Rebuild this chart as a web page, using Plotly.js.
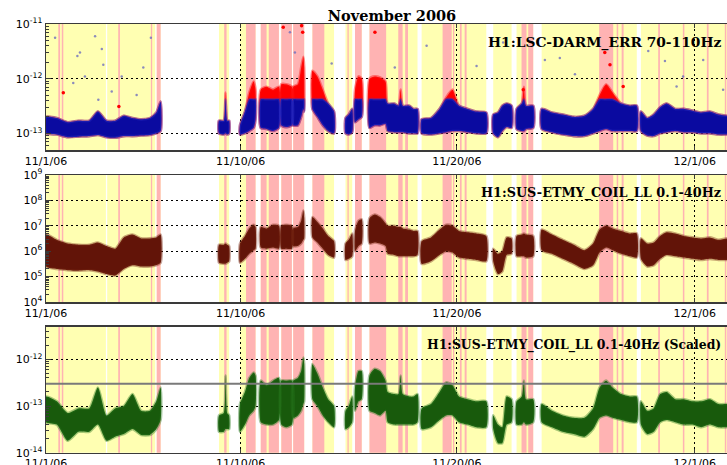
<!DOCTYPE html>
<html>
<head>
<meta charset="utf-8">
<script src="https://cdn.plot.ly/plotly-3.0.1.min.js"></script>
<style>html,body{margin:0;padding:0;overflow:hidden;background:#fff}</style>
</head>
<body>
<div id="chart"></div>
<script>
// ---------- data (days since 11/1/06 00:00) ----------
const dayTicks = [0, 9, 19, 30];
const dayTickLabels = ['11/1/06', '11/10/06', '11/20/06', '12/1/06'];

// science-mode segments (yellow) and flagged segments (pink)
const scienceStart = [0, 2.83, 5.12, 8.00, 8.97, 9.93, 10.88, 11.43, 12.32, 13.85, 14.29, 14.96, 17.37, 20.68, 21.76, 22.92, 27.51];
const scienceEnd   = [2.77, 5.05, 5.30, 8.47, 9.69, 10.77, 11.37, 11.94, 13.32, 14.16, 14.60, 17.18, 20.36, 21.53, 22.53, 27.32, 32];
const flaggedStart = [0.57, 0.73, 3.34, 4.85, 5.12, 8.24, 9.25, 9.93, 10.30, 10.88, 11.43, 12.32, 13.94, 14.29, 14.96, 16.29, 16.61, 18.34, 18.82, 19.14, 19.36, 21.99, 22.30, 25.58, 26.39, 26.62, 28.31, 29.45, 30.56, 31.39];
const flaggedEnd   = [0.65, 0.80, 3.42, 4.91, 5.30, 8.35, 9.69, 10.20, 10.77, 11.37, 11.94, 12.87, 14.00, 14.60, 15.73, 16.49, 16.74, 18.76, 18.88, 19.22, 19.45, 22.22, 22.53, 26.23, 26.46, 26.71, 28.39, 29.52, 30.64, 31.46];

// sample times of the data clouds (null = gap between locked segments)
const t = [
  0, 0.5, 1.0, 1.5, 2.0, 2.4, 2.8, 3.2, 3.6, 4.0, 4.4, 4.8, 5.1, 5.3, null,
  8.0, 8.22, 8.3, 8.38, 8.47, null,
  8.97, 9.2, 9.4, 9.6, 9.69, null,
  9.93, 10.2, 10.5, 10.77, null,
  10.88, 11.1, 11.37, null,
  11.43, 11.65, 11.8, 11.9, 11.94, null,
  12.32, 12.55, 12.8, 13.05, 13.32, null,
  13.85, 14.0, 14.16, null,
  14.29, 14.45, 14.6, null,
  14.96, 15.2, 15.45, 15.7, 15.8, 16.1, 16.3, 16.4, 16.5, 16.8, 17.0, 17.18, null,
  17.37, 17.8, 18.2, 18.5, 18.8, 19.1, 19.5, 19.9, 20.36, null,
  20.68, 20.9, 21.1, 21.3, 21.53, null,
  21.76, 22.0, 22.1, 22.2, 22.53, null,
  22.92, 23.4, 23.9, 24.4, 24.9, 25.3, 25.6, 25.9, 26.2, 26.6, 27.0, 27.32, null,
  27.51, 27.8, 28.1, 28.4, 28.7, 29.1, 29.5, 29.9, 30.3, 30.7, 31.1, 31.5, 32
];

// H1:LSC-DARM_ERR 70-110Hz : upper / lower edge of dense cloud
const darmHi = [
  2.0e-13, 1.9e-13, 1.6e-13, 1.7e-13, 1.7e-13, 2.5e-13, 1.7e-13, 1.7e-13, 2.1e-13, 1.9e-13, 1.8e-13, 1.9e-13, 2.4e-13, 3.8e-13, null,
  1.7e-13, 1.7e-13, 5.6e-13, 1.7e-13, 1.7e-13, null,
  1.4e-13, 2.5e-13, 5.6e-13, 8.9e-13, 6.3e-13, null,
  6.3e-13, 7.1e-13, 6.3e-13, 7.1e-13, null,
  7.9e-13, 7.9e-13, 7.1e-13, null,
  7.1e-13, 7.9e-13, 1.6e-12, 2.5e-12, 1.6e-12, null,
  1.4e-12, 1.1e-12, 6.3e-13, 3.5e-13, 2.5e-13, null,
  1.9e-13, 2.2e-13, 2.8e-13, null,
  6.3e-13, 1.1e-12, 1.0e-12, null,
  1.0e-12, 1.1e-12, 1.05e-12, 8.9e-13, 3.5e-13, 3.5e-13, 3.2e-13, 6.3e-13, 3.2e-13, 3.2e-13, 2.8e-13, 2.8e-13, null,
  1.8e-13, 1.9e-13, 2.8e-13, 4.5e-13, 6.3e-13, 3.2e-13, 2.8e-13, 2.5e-13, 2.4e-13, null,
  2.2e-13, 2.4e-13, 3.2e-13, 3.5e-13, 3.2e-13, null,
  2.8e-13, 3.5e-13, 7.1e-13, 3.2e-13, 3.2e-13, null,
  2.8e-13, 2.4e-13, 2.2e-13, 2.0e-13, 2.1e-13, 2.8e-13, 5.0e-13, 7.9e-13, 5.6e-13, 3.5e-13, 3.2e-13, 3.2e-13, null,
  2.5e-13, 1.9e-13, 2.2e-13, 3.0e-13, 3.5e-13, 2.8e-13, 2.8e-13, 2.6e-13, 2.4e-13, 2.5e-13, 2.2e-13, 2.1e-13, 2.1e-13
];
const darmLo = [
  1.0e-13, 9.5e-14, 8.5e-14, 8.7e-14, 8.9e-14, 9.3e-14, 8.5e-14, 8.3e-14, 8.9e-14, 8.9e-14, 9.1e-14, 9.3e-14, 1.0e-13, 1.1e-13, null,
  1.0e-13, 9.5e-14, 1.0e-13, 9.5e-14, 1.0e-13, null,
  9.5e-14, 1.0e-13, 1.1e-13, 1.26e-13, 1.8e-13, null,
  1.26e-13, 1.2e-13, 1.1e-13, 1.26e-13, null,
  1.4e-13, 1.3e-13, 1.4e-13, null,
  1.4e-13, 1.4e-13, 2.0e-13, 2.8e-13, 2.5e-13, null,
  2.8e-13, 2.0e-13, 1.4e-13, 1.1e-13, 1.0e-13, null,
  1.0e-13, 9.5e-14, 1.05e-13, null,
  1.6e-13, 1.8e-13, 2.0e-13, null,
  1.26e-13, 1.4e-13, 1.4e-13, 1.5e-13, 1.1e-13, 1.05e-13, 1.05e-13, 1.05e-13, 1.05e-13, 1.0e-13, 1.0e-13, 1.0e-13, null,
  1.0e-13, 9.5e-14, 1.0e-13, 1.05e-13, 1.1e-13, 1.1e-13, 1.05e-13, 1.0e-13, 1.0e-13, null,
  1.0e-13, 8.5e-14, 1.1e-13, 1.3e-13, 1.26e-13, null,
  1.2e-13, 1.1e-13, 1.1e-13, 1.2e-13, 1.26e-13, null,
  1.2e-13, 1.05e-13, 9.5e-14, 8.9e-14, 8.9e-14, 1.0e-13, 1.1e-13, 1.2e-13, 1.1e-13, 1.1e-13, 1.1e-13, 1.1e-13, null,
  1.1e-13, 9.1e-14, 8.9e-14, 1.0e-13, 1.05e-13, 1.1e-13, 1.05e-13, 1.05e-13, 1.0e-13, 1.0e-13, 9.5e-14, 9.5e-14, 9.5e-14
];
const darmRedThreshold = 4.2e-13;

// sparse DARM outliers
const darmOutDay = [0.42, 2.27, 1.57, 2.58, 1.45, 2.65, 1.80, 1.26, 3.04, 2.42, 4.50, 4.85, 4.19, 3.50, 11.28, 11.51, 16.13, 17.60, 19.91, 21.14, 13.21, 23.07, 23.76, 24.46, 27.85, 28.62, 29.16, 29.46, 30.39, 31.31];
const darmOutVal = [5.6e-12, 6.0e-12, 3.0e-12, 3.5e-12, 2.6e-12, 1.8e-12, 1.1e-12, 8.3e-13, 5.8e-13, 4.1e-13, 1.6e-12, 5.6e-12, 5.0e-13, 1.1e-12, 7.1e-12, 3.0e-12, 1.6e-12, 4.0e-12, 1.7e-12, 4.6e-12, 1.9e-12, 2.2e-12, 2.4e-12, 1.2e-12, 3.2e-12, 2.1e-12, 7.2e-13, 1.1e-12, 2.2e-12, 6.3e-13];
const darmRedOutDay = [0.80, 3.37, 10.97, 15.21, 22.07, 25.84, 26.08, 26.69, 11.82, 11.87];
const darmRedOutVal = [5.5e-13, 3.1e-13, 8.7e-12, 7.1e-12, 6.3e-13, 3.0e-12, 1.8e-12, 7.2e-13, 9.3e-12, 7.1e-12];

// H1:SUS-ETMY_COIL_LL 0.1-40Hz
const coilHi = [
  4.5e6, 2.8e6, 2.0e6, 1.8e6, 1.8e6, 2.2e6, 1.6e6, 1.26e6, 3.5e6, 4.5e6, 3.2e6, 3.2e6, 3.5e6, 4.5e6, null,
  1.8e6, 1.8e6, 2.0e6, 1.8e6, 1.6e6, null,
  2.0e6, 4.0e6, 7.9e6, 1.1e7, 8.9e6, null,
  8.9e6, 7.9e6, 1.1e7, 1.0e7, null,
  1.0e7, 1.1e7, 1.0e7, null,
  7.9e6, 8.9e6, 1.6e7, 4.0e7, 2.0e7, null,
  2.2e7, 1.4e7, 7.9e6, 4.0e6, 2.5e6, null,
  2.0e6, 2.8e6, 5.0e6, null,
  6.3e6, 1.6e7, 1.8e7, null,
  2.0e7, 2.8e7, 2.2e7, 1.26e7, 1.0e7, 1.0e7, 8.9e6, 8.9e6, 7.9e6, 7.1e6, 6.3e6, 6.3e6, null,
  2.5e6, 3.5e6, 7.1e6, 1.1e7, 1.0e7, 6.3e6, 5.6e6, 5.0e6, 4.0e6, null,
  1.26e6, 7.9e5, 1.0e6, 3.5e6, 3.2e6, null,
  4.0e6, 4.5e6, 5.0e6, 4.5e6, 4.0e6, null,
  7.1e6, 4.5e6, 2.8e6, 1.8e6, 1.1e6, 2.0e6, 7.1e6, 1.0e7, 7.9e6, 6.3e6, 5.0e6, 5.0e6, null,
  3.2e6, 2.0e6, 2.2e6, 4.0e6, 5.6e6, 5.0e6, 4.0e6, 3.5e6, 3.2e6, 3.5e6, 2.8e6, 3.2e6, 2.8e6
];
const coilLo = [
  2.5e5, 2.0e5, 1.8e5, 1.7e5, 1.8e5, 1.6e5, 1.26e5, 1.1e5, 2.0e5, 2.8e5, 2.5e5, 2.5e5, 2.8e5, 3.5e5, null,
  3.5e5, 3.2e5, 3.2e5, 3.5e5, 4.0e5, null,
  3.5e5, 5.0e5, 7.9e5, 1.1e6, 1.26e6, null,
  1.4e6, 1.26e6, 1.4e6, 1.26e6, null,
  1.26e6, 1.26e6, 1.26e6, null,
  1.6e6, 1.6e6, 2.0e6, 2.8e6, 3.2e6, null,
  3.5e6, 2.2e6, 1.26e6, 7.1e5, 5.6e5, null,
  4.5e5, 5.0e5, 6.3e5, null,
  1.0e6, 1.6e6, 2.0e6, null,
  2.0e6, 2.2e6, 2.0e6, 1.6e6, 7.9e5, 7.1e5, 6.3e5, 6.3e5, 6.3e5, 6.3e5, 6.3e5, 7.1e5, null,
  3.2e5, 4.0e5, 7.1e5, 1.0e6, 8.9e5, 5.6e5, 5.0e5, 4.5e5, 4.0e5, null,
  4.0e5, 1.26e5, 1.6e5, 7.1e5, 7.9e5, null,
  6.3e5, 6.3e5, 6.3e5, 5.6e5, 6.3e5, null,
  1.1e6, 7.9e5, 5.0e5, 3.2e5, 2.0e5, 2.8e5, 8.9e5, 1.4e6, 1.1e6, 7.9e5, 6.3e5, 5.6e5, null,
  5.0e5, 2.5e5, 2.8e5, 5.0e5, 7.1e5, 6.3e5, 5.6e5, 5.0e5, 4.5e5, 5.0e5, 4.5e5, 4.5e5, 4.0e5
];

// H1:SUS-ETMY_COIL_LL 0.1-40Hz (Scaled)
const scaledHi = [
  1.6e-13, 1.26e-13, 7.1e-14, 8.9e-14, 8.9e-14, 2.5e-13, 6.3e-14, 8.9e-14, 1.0e-13, 1.8e-13, 7.9e-14, 7.9e-14, 1.26e-13, 2.5e-13, null,
  6.3e-14, 7.1e-14, 4.5e-13, 7.1e-14, 6.3e-14, null,
  1.1e-13, 2.0e-13, 4.0e-13, 5.2e-13, 4.5e-13, null,
  3.5e-13, 2.8e-13, 3.5e-13, 4.0e-13, null,
  3.5e-13, 3.5e-13, 3.5e-13, null,
  3.5e-13, 4.0e-13, 5.6e-13, 1.1e-12, 7.9e-13, null,
  7.9e-13, 5.0e-13, 2.5e-13, 1.4e-13, 1.0e-13, null,
  7.9e-14, 1.0e-13, 1.6e-13, null,
  2.5e-13, 5.6e-13, 5.6e-13, null,
  4.5e-13, 6.3e-13, 5.6e-13, 3.5e-13, 2.0e-13, 1.8e-13, 1.8e-13, 4.5e-13, 1.8e-13, 1.6e-13, 1.6e-13, 1.8e-13, null,
  8.9e-14, 1.1e-13, 2.0e-13, 3.2e-13, 2.8e-13, 1.6e-13, 1.4e-13, 1.26e-13, 1.26e-13, null,
  6.3e-14, 4.0e-14, 3.5e-14, 1.6e-13, 1.4e-13, null,
  1.26e-13, 1.6e-13, 3.5e-13, 1.4e-13, 1.4e-13, null,
  1.1e-13, 7.9e-14, 6.3e-14, 5.6e-14, 5.6e-14, 8.9e-14, 2.5e-13, 3.5e-13, 2.5e-13, 1.8e-13, 1.6e-13, 1.6e-13, null,
  1.26e-13, 7.9e-14, 8.9e-14, 1.8e-13, 2.0e-13, 1.4e-13, 1.4e-13, 1.26e-13, 1.26e-13, 1.4e-13, 1.1e-13, 1.1e-13, 1.1e-13
];
const scaledLo = [
  4.5e-14, 4.0e-14, 1.8e-14, 2.8e-14, 2.8e-14, 4.0e-14, 1.8e-14, 2.2e-14, 2.5e-14, 3.2e-14, 2.4e-14, 2.4e-14, 3.2e-14, 5.0e-14, null,
  2.8e-14, 2.8e-14, 3.2e-14, 3.2e-14, 3.2e-14, null,
  2.8e-14, 4.0e-14, 6.3e-14, 7.9e-14, 1.0e-13, null,
  4.5e-14, 4.0e-14, 4.0e-14, 5.0e-14, null,
  4.0e-14, 3.5e-14, 4.0e-14, null,
  5.6e-14, 6.3e-14, 7.9e-14, 1.1e-13, 1.26e-13, null,
  1.4e-13, 1.0e-13, 6.3e-14, 4.5e-14, 3.5e-14, null,
  3.2e-14, 3.5e-14, 4.5e-14, null,
  7.9e-14, 1.26e-13, 1.4e-13, null,
  7.9e-14, 7.1e-14, 6.3e-14, 7.9e-14, 4.5e-14, 4.0e-14, 4.0e-14, 4.0e-14, 4.0e-14, 4.0e-14, 4.0e-14, 4.5e-14, null,
  3.2e-14, 3.5e-14, 5.0e-14, 6.3e-14, 6.3e-14, 4.5e-14, 4.0e-14, 3.5e-14, 3.5e-14, null,
  3.2e-14, 1.6e-14, 1.6e-14, 4.0e-14, 4.5e-14, null,
  4.0e-14, 4.0e-14, 4.5e-14, 4.0e-14, 4.5e-14, null,
  4.5e-14, 3.5e-14, 2.8e-14, 2.5e-14, 2.2e-14, 3.2e-14, 5.6e-14, 6.3e-14, 5.6e-14, 5.0e-14, 4.5e-14, 4.5e-14, null,
  4.0e-14, 2.5e-14, 2.8e-14, 4.5e-14, 5.0e-14, 4.5e-14, 4.0e-14, 4.0e-14, 3.5e-14, 4.0e-14, 3.5e-14, 3.5e-14, 3.5e-14
];
const scaledThreshold = 3e-13;

// ---------- helpers ----------
function bandPolygon(xs, lo, hi) {
  const px = [], py = [];
  let seg = [];
  const flush = () => {
    if (!seg.length) return;
    if (px.length) { px.push(null); py.push(null); }
    seg.forEach(i => { px.push(xs[i]); py.push(hi[i]); });
    seg.slice().reverse().forEach(i => { px.push(xs[i]); py.push(lo[i]); });
    px.push(xs[seg[0]]); py.push(hi[seg[0]]);
    seg = [];
  };
  xs.forEach((x, i) => { if (x === null) flush(); else seg.push(i); });
  flush();
  return { x: px, y: py };
}
function cloud(xs, lo, hi, color, edge, xa, ya) {
  const p = bandPolygon(xs, lo, hi);
  return { x: p.x, y: p.y, xaxis: xa, yaxis: ya, type: 'scatter', mode: 'lines',
    fill: 'toself', fillcolor: color, line: { color: edge, width: 2.6, shape: 'spline', smoothing: 0.6 },
    hoverinfo: 'skip', showlegend: false };
}

const BLUE = 'rgb(10,10,160)', RED = 'rgb(255,0,0)', BROWN = 'rgb(98,20,8)', GREEN = 'rgb(24,90,12)';
const darmBlueHi = darmHi.map(v => v === null ? null : Math.min(v, darmRedThreshold));

const traces = [
  cloud(t, darmLo, darmHi, RED, 'rgba(255,20,20,0.45)', 'x', 'y'),
  cloud(t, darmLo, darmBlueHi, BLUE, 'rgba(50,50,200,0.4)', 'x', 'y'),
  { x: darmOutDay, y: darmOutVal, xaxis: 'x', yaxis: 'y', type: 'scatter', mode: 'markers',
    marker: { size: 2.5, color: 'rgba(110,110,190,0.8)' }, hoverinfo: 'skip', showlegend: false },
  { x: darmRedOutDay, y: darmRedOutVal, xaxis: 'x', yaxis: 'y', type: 'scatter', mode: 'markers',
    marker: { size: 3.5, color: RED }, hoverinfo: 'skip', showlegend: false },
  cloud(t, coilLo, coilHi, BROWN, 'rgba(120,40,20,0.4)', 'x2', 'y2'),
  cloud(t, scaledLo, scaledHi, GREEN, 'rgba(40,120,30,0.4)', 'x3', 'y3')
];

// ---------- layout ----------
const W = 748, H = 480;
const domains = [[0.6875, 0.95], [0.3708, 0.6354], [0.0569, 0.3194]];
const yRanges = [[-13.305, -11], [4, 9], [-14, -11.3]];
const yMajors = [[-13, -12, -11], [4, 5, 6, 7, 8, 9], [-14, -13, -12]];
const tickFont = { family: 'DejaVu Sans', size: 11, color: '#000' };
const FRAME = '#3a3a3a';

function minorVals(r) {
  const out = [];
  for (let n = Math.floor(r[0]) - 1; n <= Math.ceil(r[1]); n++)
    for (let k = 2; k <= 9; k++) out.push(k * Math.pow(10, n));
  return out;
}
function xAxis(anchor) {
  return { domain: [0, 1], range: [0, 32], anchor: anchor, tickmode: 'array',
    tickvals: dayTicks, ticktext: dayTickLabels, ticks: 'inside', ticklen: 4, tickcolor: FRAME,
    showline: true, linecolor: FRAME, linewidth: 1.5, mirror: 'ticks',
    showgrid: true, gridcolor: '#000', gridwidth: 1, griddash: '2px,3px',
    zeroline: false, tickfont: tickFont, automargin: false, fixedrange: true };
}
function yAxis(i, anchor) {
  return { type: 'log', domain: domains[i], range: yRanges[i], anchor: anchor,
    tickmode: 'array', tickvals: yMajors[i].map(e => Math.pow(10, e)),
    ticktext: yMajors[i].map(e => '10<sup>' + e + '</sup>'),
    ticks: 'inside', ticklen: 5, tickcolor: FRAME,
    minor: { tickmode: 'array', tickvals: minorVals(yRanges[i]), ticks: 'inside', ticklen: 3, tickcolor: FRAME, showgrid: false },
    showline: true, linecolor: FRAME, linewidth: 1.5, mirror: 'ticks',
    showgrid: true, gridcolor: '#000', gridwidth: 1, griddash: '2px,3px',
    zeroline: false, tickfont: tickFont, automargin: false, fixedrange: true };
}

const shapes = [];
['', '2', '3'].forEach(s => {
  scienceStart.forEach((a, i) => shapes.push({ type: 'rect', layer: 'below', xref: 'x' + s, yref: 'y' + s + ' domain',
    x0: a, x1: scienceEnd[i], y0: 0, y1: 1, fillcolor: '#ffffb2', line: { width: 0 } }));
  flaggedStart.forEach((a, i) => shapes.push({ type: 'rect', layer: 'below', xref: 'x' + s, yref: 'y' + s + ' domain',
    x0: a, x1: flaggedEnd[i], y0: 0, y1: 1, fillcolor: '#ffb3b3', line: { width: 0 } }));
});
shapes.push({ type: 'line', layer: 'above', xref: 'x3 domain', yref: 'y3', x0: 0, x1: 1,
  y0: scaledThreshold, y1: scaledThreshold, line: { color: '#7a7a7a', width: 2 } });

const annotations = [
  { text: '<b>H1:LSC-DARM_ERR 70-110Hz</b>', y: 0.911, size: 13.8 },
  { text: '<b>H1:SUS-ETMY_COIL_LL 0.1-40Hz</b>', y: 0.598, size: 12.8 },
  { text: '<b>H1:SUS-ETMY_COIL_LL 0.1-40Hz (Scaled)</b>', y: 0.281, size: 12.4 }
].map(a => ({ text: a.text, xref: 'paper', yref: 'paper', x: 0.978, y: a.y,
  xanchor: 'right', yanchor: 'middle', showarrow: false,
  font: { family: 'DejaVu Serif', size: a.size, color: '#000' } }));

const layout = {
  width: W, height: H,
  margin: { l: 46, r: 10, t: 0, b: 0, pad: 0 },
  paper_bgcolor: '#fff', plot_bgcolor: '#fff',
  title: { text: '<b>November 2006</b>', font: { family: 'DejaVu Serif', size: 14.5, color: '#000' },
    xref: 'paper', x: 0.5, xanchor: 'center', yref: 'container', y: 1 - 16 / H, yanchor: 'middle' },
  xaxis: xAxis('y'), xaxis2: xAxis('y2'), xaxis3: xAxis('y3'),
  yaxis: yAxis(0, 'x'), yaxis2: yAxis(1, 'x2'), yaxis3: yAxis(2, 'x3'),
  shapes: shapes, annotations: annotations, showlegend: false
};

Plotly.newPlot('chart', traces, layout, { displayModeBar: false, staticPlot: true });
</script>
</body>
</html>
